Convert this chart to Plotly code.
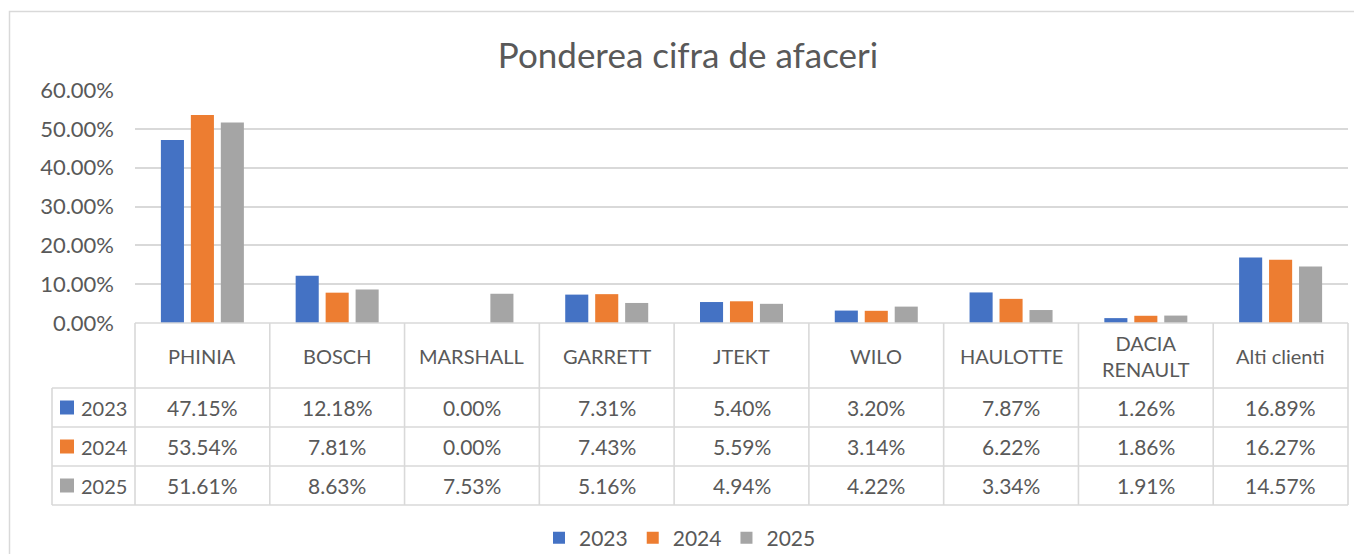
import plotly.graph_objects as go

categories = ["PHINIA", "BOSCH", "MARSHALL", "GARRETT", "JTEKT", "WILO", "HAULOTTE", "DACIA RENAULT", "Alti clienti"]
header_labels = ["PHINIA", "BOSCH", "MARSHALL", "GARRETT", "JTEKT", "WILO", "HAULOTTE", "DACIA<br>RENAULT", "Alti clienti"]
years = ["2023", "2024", "2025"]
v2023 = [0.4715, 0.1218, 0.0000, 0.0731, 0.0540, 0.0320, 0.0787, 0.0126, 0.1689]
v2024 = [0.5354, 0.0781, 0.0000, 0.0743, 0.0559, 0.0314, 0.0622, 0.0186, 0.1627]
v2025 = [0.5161, 0.0863, 0.0753, 0.0516, 0.0494, 0.0422, 0.0334, 0.0191, 0.1457]
colors = ["#4472C4", "#ED7D31", "#A5A5A5"]
series = [v2023, v2024, v2025]

OFF = 8  # page body margin
W, H = 1362 - OFF, 554 - OFF
SX0, SX1, SY0, SY1 = 135, 1348, 90, 323
L, T = SX0 - OFF, SY0 - OFF
R = W - (SX1 - OFF)
B = H - (SY1 - OFF)
PW, PH = W - L - R, H - T - B


def py(p):
    return (SY1 - p) / PH


def px(p):
    return (p - SX0) / PW


FONT = "Lato, 'Open Sans', sans-serif"
TXT = "#595959"
GRID = "#D9D9D9"

fig = go.Figure()
for name, vals, col in zip(years, series, colors):
    fig.add_trace(go.Bar(x=categories, y=vals, name=name, marker=dict(color=col, line=dict(width=0))))

shapes = []
annotations = []
n = len(categories)

header_bottom = 388
row_h = 39
row_tops = [header_bottom + i * row_h for i in range(len(years))]
table_bottom = header_bottom + len(years) * row_h
label_left = 52

lw = 1.6
shapes.append(dict(type="line", xref="paper", yref="paper", x0=0, x1=1, y0=py(SY1), y1=py(SY1),
                   line=dict(color=GRID, width=lw)))
for yy in [header_bottom] + [t + row_h for t in row_tops]:
    shapes.append(dict(type="line", xref="paper", yref="paper", x0=px(label_left), x1=1, y0=py(yy), y1=py(yy),
                       line=dict(color=GRID, width=lw)))
for k in range(n + 1):
    shapes.append(dict(type="line", xref="paper", yref="paper", x0=k / n, x1=k / n, y0=py(SY1), y1=py(table_bottom),
                       line=dict(color=GRID, width=lw)))
shapes.append(dict(type="line", xref="paper", yref="paper", x0=px(label_left), x1=px(label_left),
                   y0=py(header_bottom), y1=py(table_bottom), line=dict(color=GRID, width=lw)))

shapes.append(dict(type="rect", xref="paper", yref="paper", x0=px(9.5), x1=px(1400), y0=py(11.5), y1=py(600),
                   line=dict(color=GRID, width=1.5), layer="below"))

for cat, lab in zip(categories, header_labels):
    annotations.append(dict(x=cat, xref="x", y=py((SY1 + header_bottom) / 2), yref="paper", text=lab,
                            showarrow=False, xanchor="center", yanchor="middle",
                            font=dict(family=FONT, size=20, color=TXT)))

for i, (name, vals, col) in enumerate(zip(years, series, colors)):
    cy = row_tops[i] + row_h / 2
    shapes.append(dict(type="rect", xref="paper", yref="paper", x0=px(60), x1=px(74), y0=py(cy - 7), y1=py(cy + 7),
                       fillcolor=col, line=dict(width=0)))
    annotations.append(dict(x=px(79), xref="paper", y=py(cy), yref="paper", text=name, showarrow=False,
                            xanchor="left", yanchor="middle", font=dict(family=FONT, size=20, color=TXT)))
    for cat, v in zip(categories, vals):
        annotations.append(dict(x=cat, xref="x", y=py(cy), yref="paper", text=f"{v:.2%}", showarrow=False,
                                xanchor="center", yanchor="middle", font=dict(family=FONT, size=21, color=TXT)))

fig.update_layout(
    width=W, height=H,
    margin=dict(l=L, r=R, t=T, b=B, autoexpand=False),
    paper_bgcolor="white", plot_bgcolor="white",
    barmode="group", bargap=0.333, bargroupgap=0.23,
    title=dict(text="Ponderea cifra de afaceri", x=(688 - OFF) / W, xref="container", xanchor="center",
               y=1 - (56 - OFF) / H, yref="container", yanchor="middle",
               font=dict(family=FONT, size=35, color=TXT)),
    xaxis=dict(showticklabels=False, showgrid=False, zeroline=False, showline=False, ticks=""),
    yaxis=dict(range=[0, 0.6], dtick=0.1, tickformat=".2%", showgrid=True, gridcolor=GRID, gridwidth=1.5,
               zeroline=False, showline=False, ticks="", ticklabelstandoff=20,
               tickfont=dict(family=FONT, size=22, color=TXT)),
    legend=dict(orientation="h", x=px(680), xanchor="center", y=py(538), yanchor="middle",
                font=dict(family=FONT, size=21, color=TXT), itemclick=False, traceorder="normal"),
    shapes=shapes, annotations=annotations, showlegend=True,
)

fig.write_html("out.html")
